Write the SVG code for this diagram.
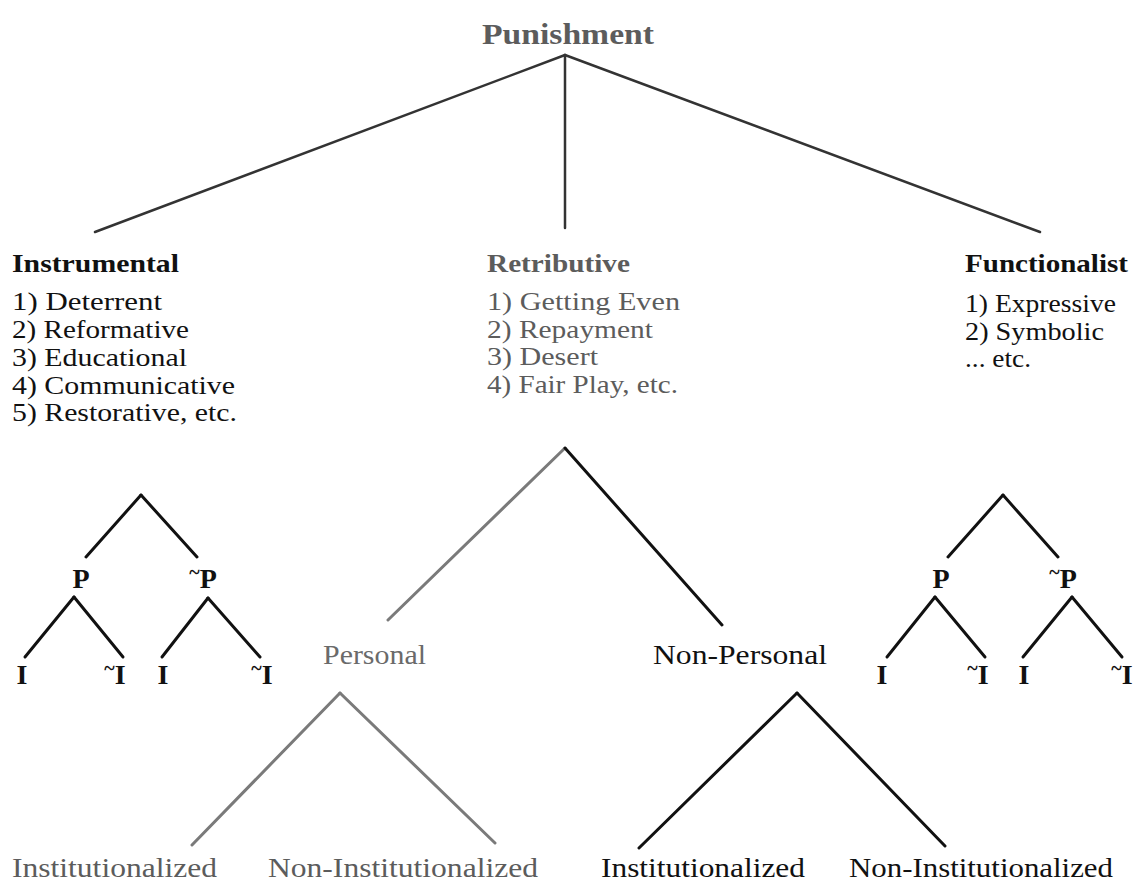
<svg xmlns="http://www.w3.org/2000/svg" width="1136" height="881" viewBox="0 0 1136 881">
<style>
text{font-family:"Liberation Serif","DejaVu Serif",serif;fill:#111}
.b{font-weight:bold}
.h{font-size:26px}
.li{font-size:26px}
.g{fill:#5c5c5c}
.lb{font-size:28px;font-weight:bold;text-anchor:middle}
.e{stroke:#111;stroke-width:3;fill:none;stroke-linecap:round}
.t{stroke:#333;stroke-width:2.5}
.gl{stroke:#7a7a7a}
</style>
<rect width="1136" height="881" fill="#ffffff"/>
<g id="connectors">
<line class="e t" x1="565" y1="55" x2="95" y2="232"/>
<line class="e t" x1="565" y1="55" x2="565" y2="228"/>
<line class="e t" x1="565" y1="55" x2="1040" y2="232"/>
<line class="e gl" x1="565" y1="448" x2="388" y2="620"/>
<line class="e" x1="565" y1="448" x2="722" y2="625"/>
<line class="e gl" x1="340" y1="693" x2="192" y2="845"/>
<line class="e gl" x1="340" y1="693" x2="495" y2="843"/>
<line class="e" x1="797" y1="693" x2="639" y2="848"/>
<line class="e" x1="797" y1="693" x2="945" y2="846"/>
<line class="e" x1="141" y1="495" x2="86" y2="557"/>
<line class="e" x1="141" y1="495" x2="197" y2="557"/>
<line class="e" x1="74" y1="597" x2="25" y2="657"/>
<line class="e" x1="74" y1="597" x2="123" y2="657"/>
<line class="e" x1="208" y1="598" x2="162" y2="657"/>
<line class="e" x1="208" y1="598" x2="260" y2="657"/>
<line class="e" x1="1003" y1="495" x2="948" y2="557"/>
<line class="e" x1="1003" y1="495" x2="1058" y2="557"/>
<line class="e" x1="935" y1="597" x2="887" y2="657"/>
<line class="e" x1="935" y1="597" x2="985" y2="657"/>
<line class="e" x1="1072" y1="597" x2="1023" y2="657"/>
<line class="e" x1="1072" y1="597" x2="1122" y2="657"/>
</g>
<g id="punishment"><text class="b g" x="482" y="44" font-size="30" textLength="172" lengthAdjust="spacingAndGlyphs">Punishment</text></g>
<g id="instrumental">
<text class="b h" x="12" y="272" textLength="167" lengthAdjust="spacingAndGlyphs">Instrumental</text>
<text class="li" x="12" y="310" textLength="150" lengthAdjust="spacingAndGlyphs">1) Deterrent</text>
<text class="li" x="12" y="338" textLength="177" lengthAdjust="spacingAndGlyphs">2) Reformative</text>
<text class="li" x="12" y="366" textLength="175" lengthAdjust="spacingAndGlyphs">3) Educational</text>
<text class="li" x="12" y="394" textLength="223" lengthAdjust="spacingAndGlyphs">4) Communicative</text>
<text class="li" x="12" y="421" textLength="225" lengthAdjust="spacingAndGlyphs">5) Restorative, etc.</text>
</g>
<g id="retributive">
<text class="b h g" x="487" y="272" textLength="143" lengthAdjust="spacingAndGlyphs">Retributive</text>
<text class="li g" x="487" y="310" textLength="193" lengthAdjust="spacingAndGlyphs">1) Getting Even</text>
<text class="li g" x="487" y="338" textLength="166" lengthAdjust="spacingAndGlyphs">2) Repayment</text>
<text class="li g" x="487" y="365" textLength="111" lengthAdjust="spacingAndGlyphs">3) Desert</text>
<text class="li g" x="487" y="393" textLength="191" lengthAdjust="spacingAndGlyphs">4) Fair Play, etc.</text>
</g>
<g id="functionalist">
<text class="b h" x="965" y="272" textLength="163" lengthAdjust="spacingAndGlyphs">Functionalist</text>
<text class="li" x="965" y="312" textLength="151" lengthAdjust="spacingAndGlyphs">1) Expressive</text>
<text class="li" x="965" y="340" textLength="139" lengthAdjust="spacingAndGlyphs">2) Symbolic</text>
<text class="li" x="965" y="367" textLength="66" lengthAdjust="spacingAndGlyphs">... etc.</text>
</g>
<g id="left-tree">
<text class="lb" x="81" y="588">P</text>
<text class="lb" x="203" y="588"><tspan font-size="20" dy="-9">~</tspan><tspan dy="9">P</tspan></text>
<text class="lb" x="22" y="684">I</text>
<text class="lb" x="115" y="684"><tspan font-size="20" dy="-9">~</tspan><tspan dy="9">I</tspan></text>
<text class="lb" x="163" y="684">I</text>
<text class="lb" x="262" y="684"><tspan font-size="20" dy="-9">~</tspan><tspan dy="9">I</tspan></text>
</g>
<g id="right-tree">
<text class="lb" x="941" y="588">P</text>
<text class="lb" x="1063" y="588"><tspan font-size="20" dy="-9">~</tspan><tspan dy="9">P</tspan></text>
<text class="lb" x="882" y="684">I</text>
<text class="lb" x="978" y="684"><tspan font-size="20" dy="-9">~</tspan><tspan dy="9">I</tspan></text>
<text class="lb" x="1024" y="684">I</text>
<text class="lb" x="1122" y="684"><tspan font-size="20" dy="-9">~</tspan><tspan dy="9">I</tspan></text>
</g>
<g id="personal"><text x="323" y="664" font-size="27" textLength="103" lengthAdjust="spacingAndGlyphs" style="fill:#6a6a6a">Personal</text></g>
<g id="non-personal"><text x="653" y="664" font-size="27" textLength="174" lengthAdjust="spacingAndGlyphs">Non-Personal</text></g>
<g id="personal-inst"><text class="g" x="12" y="877" font-size="27" textLength="205" lengthAdjust="spacingAndGlyphs">Institutionalized</text></g>
<g id="personal-noninst"><text class="g" x="268" y="877" font-size="27" textLength="270" lengthAdjust="spacingAndGlyphs">Non-Institutionalized</text></g>
<g id="nonpersonal-inst"><text x="601" y="877" font-size="27" textLength="204" lengthAdjust="spacingAndGlyphs">Institutionalized</text></g>
<g id="nonpersonal-noninst"><text x="849" y="877" font-size="27" textLength="264" lengthAdjust="spacingAndGlyphs">Non-Institutionalized</text></g>
</svg>
